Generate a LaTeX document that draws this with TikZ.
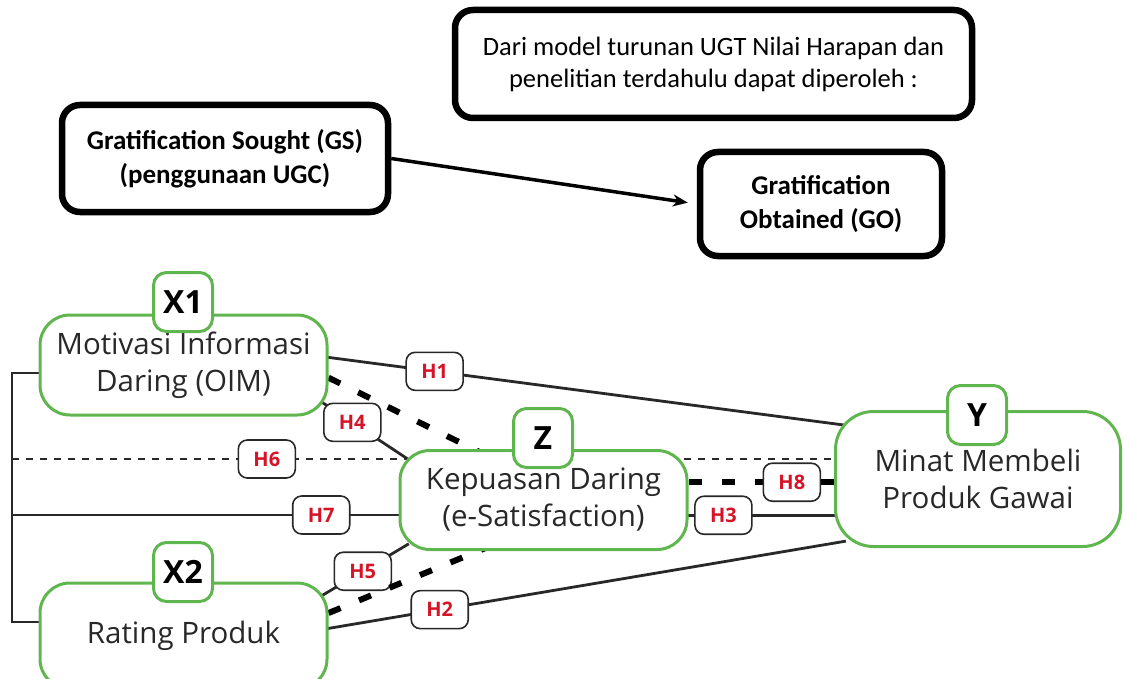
\documentclass[tikz,border=0pt]{standalone}
\usepackage{fontspec}
\setmainfont{Open Sans}
\newfontfamily\calibri{Carlito}
\usetikzlibrary{arrows.meta}
\usetikzlibrary{backgrounds}

\definecolor{hijau}{RGB}{96,182,78}
\definecolor{merah}{RGB}{214,20,40}
\definecolor{gelap}{RGB}{40,40,40}

\begin{document}
\begin{tikzpicture}[x=1pt, y=-1pt,
	kotak/.style={draw=black, line width=6.5pt, rounded corners=18pt, fill=white, align=center, font=\calibri\fontsize{26.5}{32}\selectfont},
	konstruk/.style={draw=hijau, line width=3pt, rounded corners=30pt, fill=white, align=center, text=gelap, font=\fontsize{29.5}{37}\selectfont},
	tanda/.style={draw=hijau, line width=3pt, rounded corners=13pt, fill=white, minimum size=59pt, inner sep=0pt, font=\bfseries\fontsize{32}{32}\selectfont},
	hipo/.style={draw=gelap, solid, line width=1.6pt, rounded corners=9pt, fill=white, text=merah, minimum width=57pt, minimum height=38pt, inner sep=0pt, font=\bfseries\fontsize{20}{20}\selectfont},
	garis/.style={draw=gelap, line width=2.8pt},
	putus/.style={draw=gelap, line width=2.5pt, dash pattern=on 7pt off 7pt},
	tebal/.style={draw=black, line width=6pt, dash pattern=on 13pt off 20pt, dash phase=21pt},
	masuk/.style={shorten <=-12pt, shorten >=-12pt}
]
\useasboundingbox (0,0) rectangle (1123,679);

% model UGT
\node[kotak, minimum width=517pt, minimum height=108pt] (info) at (713.5,64) {Dari model turunan UGT Nilai Harapan dan\\penelitian terdahulu dapat diperoleh :};
\node[kotak, font=\calibri\bfseries\fontsize{27}{34}\selectfont, minimum width=326pt, minimum height=107pt] (gs) at (225,158.5) {Gratification Sought (GS)\\(penggunaan UGC)};
\node[kotak, font=\calibri\bfseries\fontsize{27}{34}\selectfont, minimum width=242pt, minimum height=104pt] (go) at (821,204) {Gratification\\Obtained (GO)};
\draw[-{Stealth[length=15pt,width=12pt]}, line width=3.5pt, shorten >=9pt] (gs.east) -- (go.west);

% variabel
\node[konstruk, minimum width=287pt, minimum height=100pt] (x1) at (183.5,365) {Motivasi Informasi\\Daring (OIM)};
\node[konstruk, minimum width=287pt, minimum height=106pt] (x2) at (183.5,636) {Rating Produk};
\node[konstruk, minimum width=287pt, minimum height=99pt] (z) at (543.5,500) {Kepuasan Daring\\(e-Satisfaction)};
\node[konstruk, rounded corners=38pt, minimum width=285pt, minimum height=135pt] (y) at (978,479) {Minat Membeli\\Produk Gawai};
\node[tanda] (tx1) at (183,302) {X1};
\node[tanda] (tx2) at (183,572) {X2};
\node[tanda] (tz) at (543,438) {Z};
\node[tanda] (ty) at (977,415) {Y};

\begin{scope}[on background layer]
\coordinate (ka) at (12,373);
\coordinate (kb) at (12,622);
\coordinate (k6) at (12,459);
\coordinate (k7) at (12,515);
\draw[garis] (x1.west |- ka) -- (ka) -- (kb) -- (x2.west |- kb);
\path (k6) edge[putus] node[hipo, pos=0.31] (h6) {H6} (y.west |- k6);
\path (k7) edge[garis] node[hipo, pos=0.8] (h7) {H7} (z.west |- k7);
\path[garis, masuk]
(x1.3) edge node[hipo, pos=0.21] (h1) {H1} (y.159)
(x2.3) edge node[hipo, pos=0.22] (h2) {H2} (y.204)
(z.-6) edge node[hipo, pos=0.24] (h3) {H3} (y.west |- z.-6)
(x1.-16) edge node[hipo, pos=0.34] (h4) {H4} (z.162)
(x2.17) edge node[hipo, pos=0.49] (h5) {H5} (z.199);
\path[tebal, masuk]
(z.7) edge node[hipo, pos=0.71] (h8) {H8} (y.west |- z.7)
(x1.-5) edge (z.144)
(x2.9) edge (z.218);
\end{scope}
\end{tikzpicture}
\end{document}
